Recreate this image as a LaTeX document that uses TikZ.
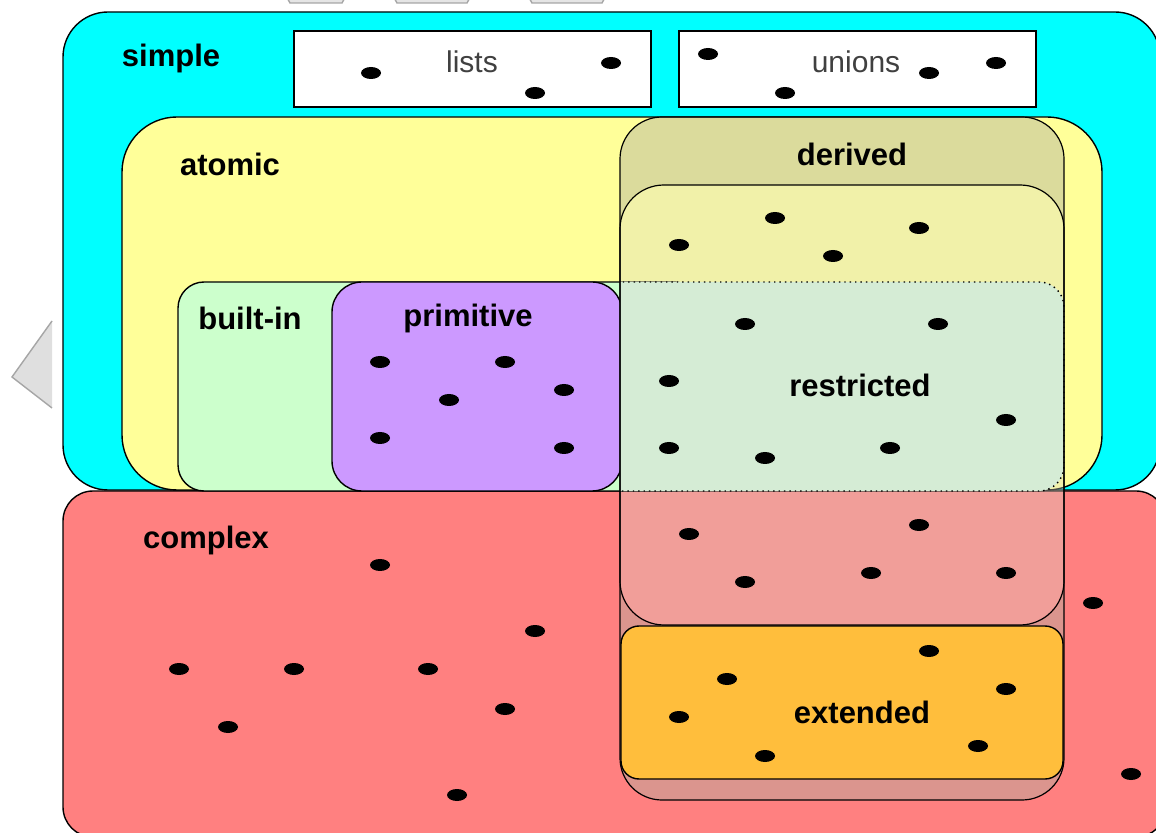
\documentclass[tikz,border=0pt]{standalone}
\usepackage{fontspec}
\setmainfont{Liberation Sans}
\usetikzlibrary{arrows}

\definecolor{simplecol}{RGB}{0,255,255}
\definecolor{complexcol}{RGB}{255,128,128}
\definecolor{atomiccol}{RGB}{255,255,153}
\definecolor{builtincol}{RGB}{204,255,204}
\definecolor{primcol}{RGB}{204,153,255}
\definecolor{restrcol}{RGB}{213,236,213}
\definecolor{extcol}{RGB}{255,190,60}
\definecolor{derivcol}{RGB}{176,176,160}
\definecolor{innercol}{RGB}{215,215,200}

\begin{document}
\begin{tikzpicture}[x=0.5pt,y=-0.5pt,line width=0.7pt,
      set label/.style={font=\bfseries\fontsize{15.5}{17}\selectfont,inner sep=0pt},
      kind label/.style={font=\fontsize{15}{17}\selectfont,text=black!75,inner sep=0pt}]

    \useasboundingbox (0,0) rectangle (1156,833);
    \clip (0,0) rectangle (1156,833);

    % tabs at the top and the arrow at the left
    \filldraw[draw=gray!70,fill=gray!20] (285,-6) -- (290,3) -- (342,3) -- (347,-6);
    \filldraw[draw=gray!70,fill=gray!20] (392,-6) -- (397,3) -- (467,3) -- (472,-6);
    \filldraw[draw=gray!70,fill=gray!20] (527,-6) -- (532,3) -- (602,3) -- (607,-6);
    \filldraw[draw=gray!70,fill=gray!25] (52,321) -- (12,377) -- (52,408);

    % outer sets
    \draw[fill=simplecol,rounded corners=22.5pt] (63,12) rectangle (1160,490);
    \draw[fill=complexcol,rounded corners=15pt] (63,491) rectangle (1166,837);
    \draw[fill=white] (294,31) rectangle (651,107);
    \draw[fill=white] (679,31) rectangle (1036,107);

    % atomic types
    \draw[fill=atomiccol,rounded corners=27.5pt] (122,117) rectangle (1102,490);
    \draw[fill=builtincol,rounded corners=13pt] (178,282) rectangle (700,491);
    \draw[fill=primcol,rounded corners=15pt] (332,282) rectangle (622,491);

    % derived types
    \fill[derivcol,fill opacity=0.45,even odd rule,rounded corners=21pt]
      (620,117) rectangle (1064,800) (620,185) rectangle (1064,625);
    \fill[innercol,fill opacity=0.35,rounded corners=22pt] (620,185) rectangle (1064,625);
    \begin{scope}
      \clip (620,270) rectangle (1075,500);
      \draw[fill=restrcol,dotted,rounded corners=12.5pt] (590,282) rectangle (1064,491);
    \end{scope}
    \draw[fill=extcol,rounded corners=9pt] (621,626) rectangle (1063,779);
    \draw[line width=0.6pt,rounded corners=21pt] (620,117) rectangle (1064,800);
    \draw[line width=0.6pt,rounded corners=22pt] (620,185) rectangle (1064,625);

    % values
    \foreach \x/\y in {371/73,535/93,611/63, 708/54,785/93,929/73,996/63,
        679/245,775/218,833/256,919/228,
        380/362,505/362,449/400,564/390,380/438,564/448,
        745/324,938/324,669/381,1006/420,669/448,765/458,890/448,
        689/534,919/525,745/582,871/573,1006/573,
        380/565,535/631,179/669,294/669,428/669,505/709,228/727,457/795,
        1093/603,1131/774,
        727/679,929/651,679/717,1006/689,765/756,978/746}
      \fill (\x,\y) ellipse (5pt and 3pt);

    % labels
    \node[set label] (simple) at (171,58) {simple};
    \node[kind label] (lists) at (472,62) {lists};
    \node[kind label] (unions) at (856,62) {unions};
    \node[set label] (atomic) at (230,164) {atomic};
    \node[set label] (derived) at (852,154) {derived};
    \node[set label] (builtin) at (250,318) {built-in};
    \node[set label] (primitive) at (468,318) {primitive};
    \node[set label] (restricted) at (860,385) {restricted};
    \node[set label] (complex) at (206,540) {complex};
    \node[set label] (extended) at (862,712) {extended};
\end{tikzpicture}
\end{document}
